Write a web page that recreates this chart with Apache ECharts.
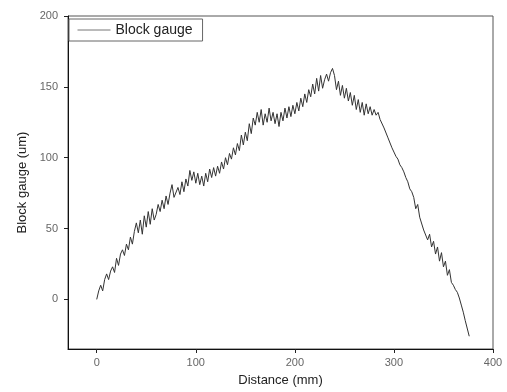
<!DOCTYPE html>
<html>
<head>
<meta charset="utf-8">
<script src="https://cdn.jsdelivr.net/npm/echarts@6/dist/echarts.min.js"></script>
<style>
  html, body { margin: 0; padding: 0; background: #fff; }
  #chart { width: 507px; height: 392px; }
</style>
</head>
<body>
<div id="chart"></div>
<script>
// sampled profile, distance in mm (2 mm steps)
const distance = [
  0, 2, 4, 6, 8, 10, 12, 14, 16, 18,
  20, 22, 24, 26, 28, 30, 32, 34, 36, 38,
  40, 42, 44, 46, 48, 50, 52, 54, 56, 58,
  60, 62, 64, 66, 68, 70, 72, 74, 76, 78,
  80, 82, 84, 86, 88, 90, 92, 94, 96, 98,
  100, 102, 104, 106, 108, 110, 112, 114, 116, 118,
  120, 122, 124, 126, 128, 130, 132, 134, 136, 138,
  140, 142, 144, 146, 148, 150, 152, 154, 156, 158,
  160, 162, 164, 166, 168, 170, 172, 174, 176, 178,
  180, 182, 184, 186, 188, 190, 192, 194, 196, 198,
  200, 202, 204, 206, 208, 210, 212, 214, 216, 218,
  220, 222, 224, 226, 228, 230, 232, 234, 236, 238,
  240, 242, 244, 246, 248, 250, 252, 254, 256, 258,
  260, 262, 264, 266, 268, 270, 272, 274, 276, 278,
  280, 282, 284, 286, 288, 290, 292, 294, 296, 298,
  300, 302, 304, 306, 308, 310, 312, 314, 316, 318,
  320, 322, 324, 326, 328, 330, 332, 334, 336, 338,
  340, 342, 344, 346, 348, 350, 352, 354, 356, 358,
  360, 362, 364, 366, 368, 370, 372, 374, 376
];

// block gauge reading, um
const gauge = [
  0, 6, 10, 6, 14, 18, 14, 20, 23, 19,
  29, 24, 32, 35, 31, 39, 35, 44, 39, 48,
  54, 47, 56, 46, 59, 51, 62, 53, 64, 56,
  60, 67, 62, 70, 64, 73, 67, 75, 81, 72,
  71, 79, 74, 83, 76, 85, 80, 91, 84, 90,
  82, 89, 81, 87, 80, 89, 83, 92, 86, 93,
  87, 94, 89, 97, 92, 100, 95, 103, 99, 107,
  102, 110, 105, 116, 109, 118, 112, 124, 117, 128,
  123, 132, 125, 134, 123, 131, 125, 135, 126, 132,
  124, 131, 122, 132, 126, 135, 128, 136, 129, 137,
  131, 139, 133, 142, 136, 145, 139, 148, 143, 152,
  145, 156, 147, 158, 149, 155, 159, 154, 160, 163,
  158, 148, 154, 144, 151, 142, 149, 140, 146, 137,
  144, 134, 141, 132, 139, 130, 138, 131, 136, 130,
  134, 130, 132, 127, 128, 121, 122, 114, 113, 107,
  104, 101, 99, 95, 93, 90, 86, 83, 78, 76,
  72, 64, 67, 58, 59, 49, 49, 42, 46, 37,
  41, 32, 37, 27, 33, 23, 27, 17, 21, 12,
  10, 7, 5, 1, -4, -9, -15, -16, -26
];

const xTicks = [0, 100, 200, 300, 400];
const yTicks = [0, 50, 100, 150, 200];

const points = distance.map((d, i) => [d, gauge[i]]);

const chart = echarts.init(document.getElementById('chart'), null, { renderer: 'canvas' });

const labelStyle = { color: '#666', fontSize: 11, fontFamily: 'Liberation Sans, Arial, sans-serif' };
const nameStyle = { color: '#222', fontSize: 13, fontFamily: 'Liberation Sans, Arial, sans-serif' };

chart.setOption({
  animation: false,
  backgroundColor: '#fff',
  grid: {
    left: 68, right: 14, top: 16, bottom: 40,
    show: true, borderColor: '#555', borderWidth: 1
  },
  legend: {
    left: 69, top: 19,
    padding: [4, 10, 4, 8],
    borderColor: '#666', borderWidth: 1,
    itemWidth: 33, itemHeight: 14, itemGap: 6,
    itemStyle: { opacity: 0 },
    lineStyle: { color: '#777', width: 1 },
    textStyle: { color: '#222', fontSize: 14, fontFamily: 'Liberation Sans, Arial, sans-serif' },
    data: ['Block gauge']
  },
  xAxis: {
    type: 'value',
    min: -29, max: 400,
    name: 'Distance (mm)',
    nameLocation: 'middle',
    nameGap: 25,
    nameTextStyle: nameStyle,
    axisLine: { show: true, onZero: false, lineStyle: { color: '#111', width: 1 } },
    axisTick: { show: true, inside: false, length: 4, customValues: xTicks, lineStyle: { color: '#222' } },
    axisLabel: { customValues: xTicks, margin: 8, ...labelStyle },
    splitLine: { show: false }
  },
  yAxis: {
    type: 'value',
    min: -35, max: 200,
    name: 'Block gauge (um)',
    nameLocation: 'middle',
    nameGap: 39,
    nameTextStyle: nameStyle,
    axisLine: { show: true, onZero: false, lineStyle: { color: '#111', width: 1 } },
    axisTick: { show: true, inside: false, length: 4, customValues: yTicks, lineStyle: { color: '#222' } },
    axisLabel: { customValues: yTicks, margin: 10, ...labelStyle },
    splitLine: { show: false }
  },
  series: [{
    name: 'Block gauge',
    type: 'line',
    data: points,
    symbol: 'none',
    lineStyle: { color: '#333', width: 1 },
    itemStyle: { color: '#333' }
  }]
});
</script>
</body>
</html>
